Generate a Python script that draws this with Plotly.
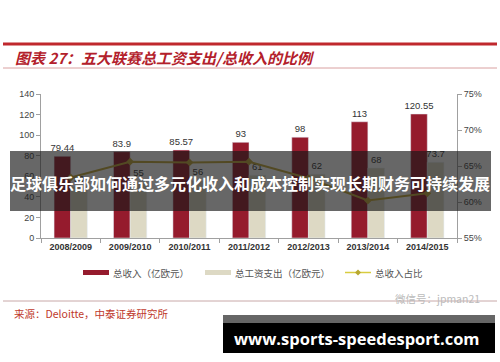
import plotly.graph_objects as go

seasons = ["2008/2009", "2009/2010", "2010/2011", "2011/2012", "2012/2013", "2013/2014", "2014/2015"]
revenue = [79.44, 83.9, 85.57, 93, 98, 113, 120.55]
wages = [50, 55, 56, 61, 62, 68, 73.7]
ratio = [0.634, 0.656, 0.655, 0.656, 0.633, 0.602, 0.612]

revenue_labels = ["79.44", "83.9", "85.57", "93", "98", "113", "120.55"]
wage_labels = ["50", "55", "56", "61", "62", "68", "73.7"]

left_ticks = [0, 20, 40, 60, 80, 100, 120, 140]
right_ticks = [0.55, 0.60, 0.65, 0.70, 0.75]
right_tick_text = ["55%", "60%", "65%", "70%", "75%"]

title_text = "图表 27：五大联赛总工资支出/总收入的比例"
source_text = "来源：Deloitte，中泰证券研究所"
banner_text = "足球俱乐部如何通过多元化收入和成本控制实现长期财务可持续发展"
site_text = "www.sports-speedesport.com"
watermark_text = "微信号：jpman21"
legend_names = ["总收入（亿欧元）", "总工资支出（亿欧元）", "总收入占比"]

RED = "#951B2D"
BEIGE = "#DDD9C4"
GOLD = "#C2A83A"

W, H = 500, 362
L, R, T, B = 41, 457, 94, 238


def px(x):
    return (x - L) / (R - L)


def py(y):
    return (B - y) / (B - T)


fig = go.Figure()
fig.add_trace(go.Bar(x=seasons, y=revenue, name=legend_names[0], marker_color=RED,
                     text=revenue_labels, textposition="outside", cliponaxis=False,
                     constraintext="none",
                     textfont=dict(size=9.5, color="#333333", family="Liberation Sans")))
fig.add_trace(go.Bar(x=seasons, y=wages, name=legend_names[1], marker_color=BEIGE,
                     text=wage_labels, textposition="outside", cliponaxis=False,
                     constraintext="none",
                     textfont=dict(size=9.5, color="#333333", family="Liberation Sans")))
fig.add_trace(go.Scatter(x=seasons, y=ratio, name=legend_names[2], yaxis="y2",
                         mode="lines+markers", line=dict(color=GOLD, width=2),
                         marker=dict(symbol="diamond", size=6, color=GOLD)))

shapes = []
annotations = []

# title lines
shapes.append(dict(type="line", xref="paper", yref="paper", x0=px(3), x1=px(497), y0=py(44), y1=py(44),
                   line=dict(color="#C0282D", width=3)))
shapes.append(dict(type="line", xref="paper", yref="paper", x0=px(3), x1=px(497), y0=py(68), y1=py(68),
                   line=dict(color="#D9A0A0", width=1)))
annotations.append(dict(text="<b><i>" + title_text + "</i></b>", xref="paper", yref="paper",
                        x=px(13), y=py(57), xanchor="left", yanchor="middle", showarrow=False,
                        font=dict(size=15, color="#B3202B", family="Noto Sans CJK SC")))

# bottom line + source
shapes.append(dict(type="line", xref="paper", yref="paper", x0=px(3), x1=px(497), y0=py(301), y1=py(301),
                   line=dict(color="#C8A8A8", width=1)))
annotations.append(dict(text=source_text, xref="paper", yref="paper",
                        x=px(12), y=py(313), xanchor="left", yanchor="middle", showarrow=False,
                        font=dict(size=10.5, color="#C0392B", family="Noto Sans CJK SC")))
annotations.append(dict(text=watermark_text, xref="paper", yref="paper",
                        x=px(482), y=py(298), xanchor="right", yanchor="middle", showarrow=False,
                        font=dict(size=10.5, color="#BBBBBB", family="Noto Sans CJK SC")))

# custom legend
shapes.append(dict(type="rect", xref="paper", yref="paper", x0=px(83), x1=px(109), y0=py(270), y1=py(275),
                   fillcolor=RED, line=dict(width=0)))
shapes.append(dict(type="rect", xref="paper", yref="paper", x0=px(205), x1=px(231), y0=py(270), y1=py(275),
                   fillcolor=BEIGE, line=dict(width=0)))
shapes.append(dict(type="line", xref="paper", yref="paper", x0=px(345), x1=px(371), y0=py(272.5), y1=py(272.5),
                   line=dict(color="#D8CC40", width=1.5)))
shapes.append(dict(type="path", xref="paper", yref="paper",
                   path="M {} {} L {} {} L {} {} L {} {} Z".format(px(355), py(272.5), px(358), py(269.5),
                                                                px(361), py(272.5), px(358), py(275.5)),
                   fillcolor="#B8A830", line=dict(width=0)))
for x0, name in [(111, legend_names[0]), (233, legend_names[1]), (373, legend_names[2])]:
    annotations.append(dict(text=name, xref="paper", yref="paper", x=px(x0), y=py(272.5),
                            xanchor="left", yanchor="middle", showarrow=False,
                            font=dict(size=9.5, color="#555555", family="Noto Sans CJK SC")))

# overlay banner
shapes.append(dict(type="rect", xref="paper", yref="paper", x0=px(10), x1=px(491), y0=py(211), y1=py(151),
                   fillcolor="rgba(25,25,25,0.66)", line=dict(width=0), layer="above"))
annotations.append(dict(text="<b>" + banner_text + "</b>", xref="paper", yref="paper",
                        x=px(250), y=py(183), xanchor="center", yanchor="middle", showarrow=False,
                        font=dict(size=16, color="#FFFFFF", family="Noto Sans CJK SC")))

# site box
shapes.append(dict(type="rect", xref="paper", yref="paper", x0=px(223), x1=px(495), y0=py(353), y1=py(315),
                   fillcolor="#000000", line=dict(width=0), layer="above"))
shapes.append(dict(type="rect", xref="paper", yref="paper", x0=px(223), x1=px(495), y0=py(323), y1=py(315),
                   fillcolor="#666666", line=dict(width=0), layer="above"))
annotations.append(dict(text="<b>" + site_text + "</b>", xref="paper", yref="paper",
                        x=px(357), y=py(338), xanchor="center", yanchor="middle", showarrow=False,
                        font=dict(size=16.5, color="#FFFFFF", family="Open Sans")))

fig.update_layout(
    width=W, height=H,
    margin=dict(l=L, r=W - R, t=T, b=H - B),
    paper_bgcolor="white", plot_bgcolor="white",
    barmode="group", bargap=0.44, bargroupgap=0,
    showlegend=False,
    shapes=shapes, annotations=annotations,
    xaxis=dict(showline=True, linecolor="#A0A0A0", linewidth=1, ticks="outside", tickson="boundaries",
               ticklen=4, tickcolor="#A0A0A0",
               tickfont=dict(size=9, color="#333333", family="Liberation Sans", weight="bold")),
    yaxis=dict(range=[0, 140], tickvals=left_ticks, showgrid=False, zeroline=False,
               showline=True, linecolor="#A0A0A0", ticks="outside", ticklen=4, tickcolor="#A0A0A0",
               tickfont=dict(size=9, color="#444444", family="Liberation Sans")),
    yaxis2=dict(range=[0.55, 0.75], tickvals=right_ticks, ticktext=right_tick_text, overlaying="y",
                side="right", showgrid=False, zeroline=False,
                showline=True, linecolor="#A0A0A0", ticks="outside", ticklen=4, tickcolor="#A0A0A0",
                tickfont=dict(size=9, color="#444444", family="Liberation Sans")),
)

fig.write_html("out.html")
